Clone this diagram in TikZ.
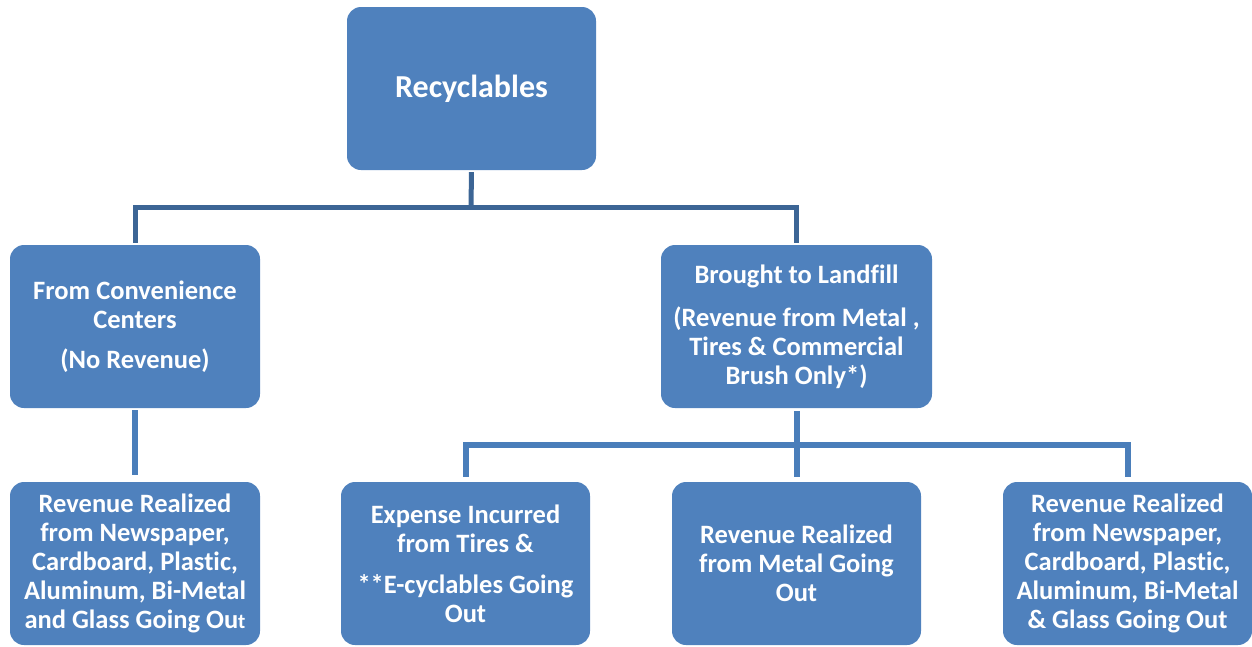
\documentclass[tikz,border=0pt]{standalone}
\usepackage{fontspec}
\setmainfont{Carlito}[Ligatures=NoCommon]
\definecolor{boxblue}{HTML}{4F81BD}
\definecolor{linedark}{HTML}{3C6595}
\definecolor{lineblue}{HTML}{4A7EBA}
\begin{document}
\begin{tikzpicture}[x=1pt,y=-1pt,
  box/.style={draw=none,fill=boxblue,rounded corners=14pt,inner sep=0pt,
    text=white,align=center,font=\bfseries\fontsize{26.5}{29}\selectfont},
  connA/.style={draw=linedark,line width=5pt},
  connB/.style={draw=lineblue,line width=6pt}]
\useasboundingbox (0,0) rectangle (1252,646);
\node[box,minimum width=249pt,minimum height=163pt,font=\bfseries\fontsize{32}{36}\selectfont] (top) at (471.5,88.5) {Recyclables};
\node[box,minimum width=250pt,minimum height=163pt] (left) at (135,326.5)
  {From Convenience\\Centers\\[11pt](No Revenue)};
\node[box,minimum width=271pt,minimum height=163pt] (right) at (796.5,326.5)
  {Brought to Landfill\\[14pt](Revenue from Metal ,\\Tires \& Commercial\\Brush Only*)};
\node[box,minimum width=250pt,minimum height=163pt] (b1) at (135,563.5)
  {Revenue Realized\\from Newspaper,\\Cardboard, Plastic,\\Aluminum, Bi-Metal\\and Glass Going Ou{\fontsize{21}{29}\selectfont t}};
\node[box,minimum width=249pt,minimum height=163pt] (b2) at (465.5,563.5)
  {Expense Incurred\\from Tires \&\\[12pt]**E-cyclables Going\\Out};
\node[box,minimum width=249pt,minimum height=163pt] (b3) at (796.5,563.5)
  {Revenue Realized\\from Metal Going\\Out};
\node[box,minimum width=249pt,minimum height=163pt] (b4) at (1127.5,563.5)
  {Revenue Realized\\from Newspaper,\\Cardboard, Plastic,\\Aluminum, Bi-Metal\\\& Glass Going Out};
\coordinate (j1) at (471,207.5);
\coordinate (j2) at (797,445);
\draw[connA,shorten <=2pt] (top.south) -- (j1);
\draw[connA,shorten <=2pt,shorten >=2pt] (left.north) |- (j1) -| (right.north);
\draw[connB,shorten <=2pt,shorten >=7pt] (left.south) -- (b1.north);
\draw[connB,shorten <=3pt,shorten >=5pt] (right.south) -- (b3.north);
\draw[connB,shorten <=5pt,shorten >=5pt] (b2.north) |- (j2) -| (b4.north);
\end{tikzpicture}
\end{document}
